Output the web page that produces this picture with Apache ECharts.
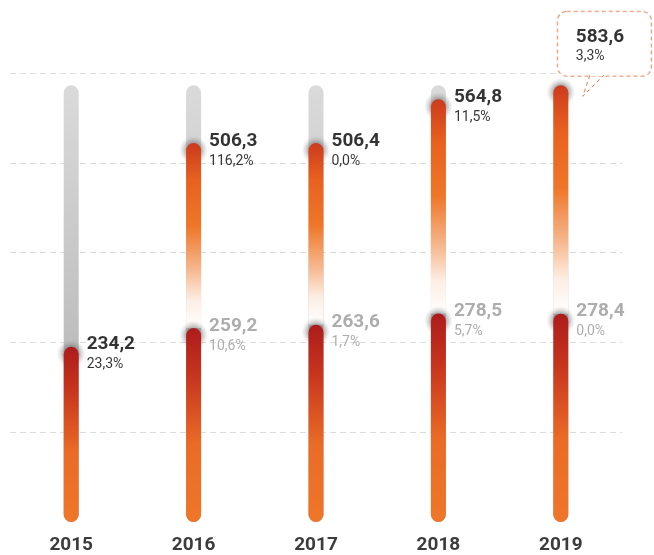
<!DOCTYPE html>
<html>
<head>
<meta charset="utf-8">
<script src="https://cdn.jsdelivr.net/npm/echarts@6/dist/echarts.min.js"></script>
<style>
	html, body { margin: 0; padding: 0; background: #fff; }
	#chart { width: 654px; height: 555px; }
</style>
</head>
<body>
<div id="chart"></div>
<script>
// 数据
const years = ['2015', '2016', '2017', '2018', '2019'];
const baseValues = [234.2, 259.2, 263.6, 278.5, 278.4];
const baseGrowth = [23.3, 10.6, 1.7, 5.7, 0.0];
const totalValues = [null, 506.3, 506.4, 564.8, 583.6];
const totalGrowth = [null, 116.2, 0.0, 11.5, 3.3];
const yMin = 0;
const yMax = 600;
const yStep = 120;

const fmt = (v) => v.toFixed(1).replace('.', ',');

// 叠加部分 = 总值 - 基础值
const upperParts = totalValues.map((t, i) => (t == null ? '-' : +(t - baseValues[i]).toFixed(1)));
const trackTop = Math.max(...totalValues.filter((v) => v != null));
const trackValues = years.map(() => trackTop);

const BAR_W = 15;
const FONT = 'Roboto, "Liberation Sans", sans-serif';

const halo = {
	type: 'radial',
	x: 0.5,
	y: 0.5,
	r: 0.5,
	colorStops: [
		{ offset: 0, color: 'rgba(80,80,80,0.85)' },
		{ offset: 0.55, color: 'rgba(110,110,110,0.6)' },
		{ offset: 1, color: 'rgba(170,170,170,0)' },
	],
};

const richText = {
	v: { fontSize: 19, fontWeight: 'bold', color: '#000', lineHeight: 20, fontFamily: FONT },
	p: { fontSize: 14, color: '#000', lineHeight: 20, fontFamily: FONT },
	vg: { fontSize: 19, fontWeight: 'bold', color: '#999', lineHeight: 20, fontFamily: FONT },
	pg: { fontSize: 14, color: '#999', lineHeight: 20, fontFamily: FONT },
};

const chart = echarts.init(document.getElementById('chart'));

const option = {
	animation: false,
	backgroundColor: '#fff',
	grid: { left: 10, right: 32, top: 73, bottom: 33, containLabel: false, outerBoundsMode: 'none' },
	xAxis: {
		type: 'category',
		data: years,
		axisLine: { show: false },
		axisTick: { show: false },
		axisLabel: { color: '#3c3c3c', fontSize: 19, fontWeight: 'bold', fontFamily: FONT, margin: 14 },
	},
	yAxis: {
		type: 'value',
		min: yMin,
		max: yMax,
		interval: yStep,
		axisLabel: { show: false },
		axisLine: { show: false },
		axisTick: { show: false },
		splitLine: { showMinLine: false, lineStyle: { color: '#dcdcdc', type: [6, 4], width: 1 } },
	},
	series: [
		// 灰色背景轨道
		{
			type: 'bar',
			data: trackValues,
			barWidth: BAR_W,
			barGap: '-100%',
			z: 1,
			silent: true,
			itemStyle: {
				borderRadius: BAR_W / 2,
				color: new echarts.graphic.LinearGradient(0, 0, 0, 1, [
					{ offset: 0, color: '#dadada' },
					{ offset: 0.5, color: '#c2c2c2' },
					{ offset: 1, color: '#aaaaaa' },
				]),
			},
		},
		// 上段顶部阴影
		{
			type: 'scatter',
			data: totalValues.map((v) => (v == null ? '-' : v)),
			symbolSize: 29,
			symbolOffset: [0, 7],
			z: 2,
			silent: true,
			itemStyle: { color: halo },
		},
		// 下段（基础值）
		{
			type: 'bar',
			stack: 'v',
			data: baseValues,
			barWidth: BAR_W,
			barGap: '-100%',
			z: 5,
			itemStyle: {
				borderRadius: BAR_W / 2,
				color: new echarts.graphic.LinearGradient(0, 0, 0, 1, [
					{ offset: 0, color: '#ad1c1b' },
					{ offset: 0.25, color: '#c7351e' },
					{ offset: 0.6, color: '#ea6b26' },
					{ offset: 1, color: '#ef7629' },
				]),
			},
		},
		// 上段（增长部分）
		{
			type: 'bar',
			stack: 'v',
			data: upperParts,
			barWidth: BAR_W,
			barGap: '-100%',
			z: 3,
			itemStyle: {
				borderRadius: [BAR_W / 2, BAR_W / 2, 0, 0],
				color: new echarts.graphic.LinearGradient(0, 0, 0, 1, [
					{ offset: 0, color: '#cc3a1d' },
					{ offset: 0.2, color: '#e8611f' },
					{ offset: 0.45, color: '#ef7628' },
					{ offset: 0.68, color: '#f6b68c' },
					{ offset: 0.85, color: '#fdeee4' },
					{ offset: 1, color: '#ffffff' },
				]),
			},
		},
		// 下段顶部阴影
		{
			type: 'scatter',
			data: baseValues,
			symbolSize: 29,
			symbolOffset: [0, 7],
			z: 4,
			silent: true,
			itemStyle: { color: halo },
		},
		// 基础值标签
		{
			type: 'scatter',
			data: baseValues,
			symbolSize: 1,
			z: 6,
			itemStyle: { color: 'rgba(0,0,0,0)' },
			label: {
				show: true,
				position: 'right',
				distance: 15,
				offset: [0, 8],
				rich: richText,
				formatter: (p) => {
					const grey = totalValues[p.dataIndex] != null;
					const v = grey ? 'vg' : 'v';
					const pc = grey ? 'pg' : 'p';
					return `{${v}|${fmt(baseValues[p.dataIndex])}}\n{${pc}|${fmt(baseGrowth[p.dataIndex])}%}`;
				},
			},
		},
		// 总值标签
		{
			type: 'scatter',
			data: totalValues.map((v, i) => {
				if (v == null) return '-';
				if (i === totalValues.length - 1) {
					// 最后一年用虚线气泡框
					return {
						value: v,
						label: {
							distance: 0,
							offset: [-3.5, -41.5],
							backgroundColor: '#fff',
							borderColor: '#ee7a4f',
							borderWidth: 1,
							borderType: [4, 3],
							borderRadius: 9,
							padding: [15, 27, 9, 18],
						},
					};
				}
				return v;
			}),
			symbolSize: 1,
			z: 6,
			itemStyle: { color: 'rgba(0,0,0,0)' },
			label: {
				show: true,
				position: 'right',
				distance: 15,
				offset: [0, 8],
				rich: richText,
				formatter: (p) => `{v|${fmt(totalValues[p.dataIndex])}}\n{p|${fmt(totalGrowth[p.dataIndex])}%}`,
			},
		},
	],
};

chart.setOption(option);

// 气泡框的小尾巴
const last = years.length - 1;
const pt = chart.convertToPixel({ xAxisIndex: 0, yAxisIndex: 0 }, [years[last], totalValues[last]]);
chart.setOption({
	graphic: [
		{
			type: 'line',
			z: 100,
			shape: { x1: pt[0] + 30, y1: pt[1] - 10, x2: pt[0] + 42, y2: pt[1] - 10 },
			style: { stroke: '#fff', lineWidth: 2 },
		},
		{
			type: 'polyline',
			z: 101,
			shape: {
				points: [
					[pt[0] + 29, pt[1] - 10],
					[pt[0] + 22, pt[1] + 11],
					[pt[0] + 43, pt[1] - 10],
				],
			},
			style: { stroke: '#ee7a4f', lineWidth: 1, lineDash: [4, 3], fill: null },
		},
	],
});
</script>
</body>
</html>
